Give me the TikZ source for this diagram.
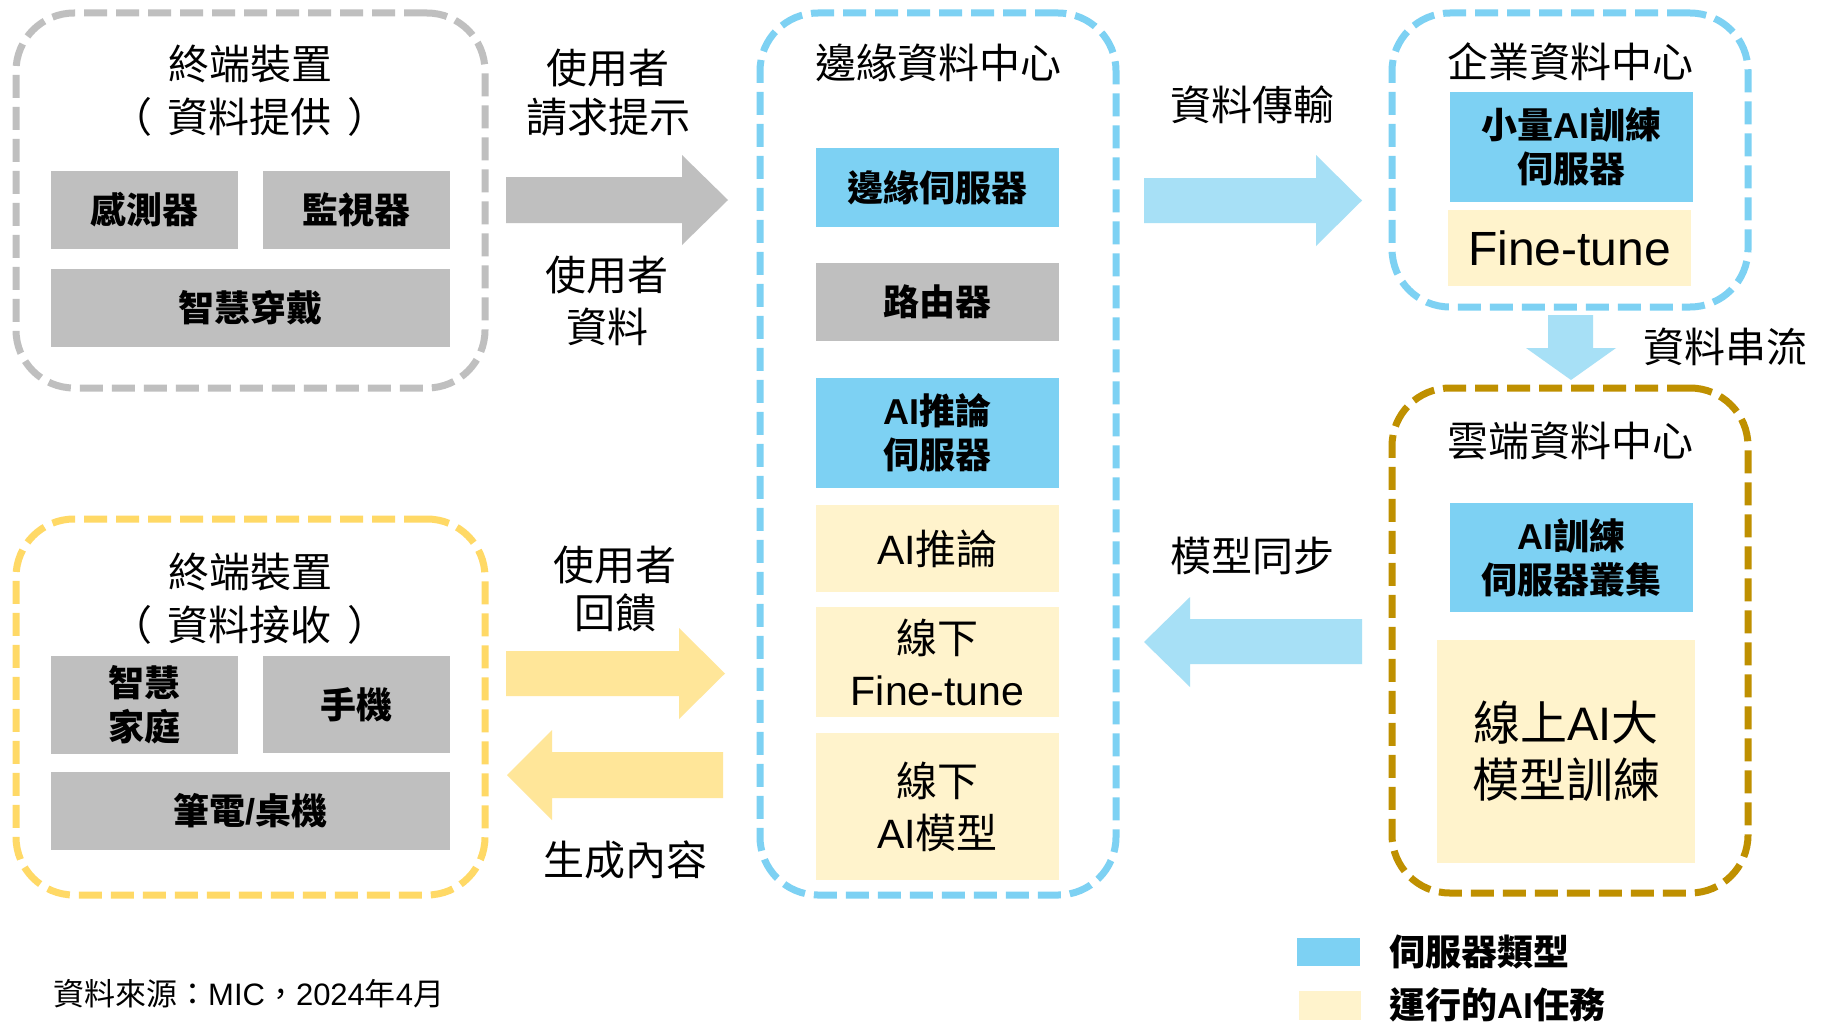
\documentclass[tikz,border=0pt]{standalone}
\usepackage{fontspec}
\setmainfont{Noto Sans CJK TC}
\newfontfamily\latf{Liberation Sans}
\definecolor{cgray}{HTML}{BFBFBF}
\definecolor{boxblue}{HTML}{7DD1F3}
\definecolor{arrblue}{HTML}{A7E0F6}
\definecolor{boxyel}{HTML}{FFF3CC}
\definecolor{arryel}{HTML}{FFE699}
\definecolor{bordyel}{HTML}{FFD966}
\definecolor{gold}{HTML}{BF9000}
\tikzset{
  cont/.style={draw=#1, line width=7pt, dash pattern=on 23pt off 9pt, rounded corners=58pt, inner sep=0pt},
  blk/.style={fill=#1, inner sep=0pt, outer sep=0pt, align=center},
  rt/.style={font=\fontsize{41}{52}\selectfont, align=center, inner sep=0pt},
  bt/.style={font=\fontsize{36}{44}\selectfont\bfseries, align=center, inner sep=0pt},
}
\begin{document}
\begin{tikzpicture}[x=1pt,y=-1pt]
\useasboundingbox (0,0) rectangle (1827,1025);
\fill[white] (0,0) rectangle (1827,1025);

% containers
\node[cont=cgray, minimum width=469, minimum height=375] (devA) at (250.5,200.5) {};
\node[cont=bordyel, minimum width=469, minimum height=376] (devB) at (250.5,707) {};
\node[cont=boxblue, minimum width=356, minimum height=882] (mid) at (938,454) {};
\node[cont=boxblue, minimum width=356, minimum height=294] (ent) at (1570,160) {};
\node[cont=gold, minimum width=356, minimum height=505] (cloud) at (1570,640.5) {};

% titles
\node[rt, font=\fontsize{41}{53}\selectfont] (devAt) at (250,91) {終端裝置\\（\hspace{16pt}資料提供\hspace{16pt}）};
\node[rt, font=\fontsize{41}{53}\selectfont] (devBt) at (250,598.5) {終端裝置\\（\hspace{16pt}資料接收\hspace{16pt}）};
\node[rt] (midt) at (938,63) {邊緣資料中心};
\node[rt] (entt) at (1570,62) {企業資料中心};
\node[rt] (cloudt) at (1570,441) {雲端資料中心};

% left top boxes
\node[blk=cgray, bt, minimum width=187, minimum height=78] (sensor) at (144.5,210) {感測器};
\node[blk=cgray, bt, minimum width=187, minimum height=78] (monitor) at (356.5,210) {監視器};
\node[blk=cgray, bt, minimum width=399, minimum height=78] (wear) at (250.5,308) {智慧穿戴};

% left bottom boxes
\node[blk=cgray, bt, minimum width=187, minimum height=98] (home) at (144.5,705) {智慧\\家庭};
\node[blk=cgray, bt, minimum width=187, minimum height=97] (phone) at (356.5,704.5) {手機};
\node[blk=cgray, bt, minimum width=399, minimum height=78] (laptop) at (250.5,811) {筆電{\latf /}桌機};

% middle boxes
\node[blk=boxblue, bt, minimum width=243, minimum height=79] (edgesrv) at (937.5,187.5) {邊緣伺服器};
\node[blk=cgray, bt, minimum width=243, minimum height=78] (router) at (937.5,302) {路由器};
\node[blk=boxblue, bt, minimum width=243, minimum height=110] (infsrv) at (937.5,433) {{\latf AI}推論\\伺服器};
\node[blk=boxyel, rt, minimum width=243, minimum height=87] (inf) at (937.5,548.5) {{\latf AI}推論};
\node[blk=boxyel, rt, minimum width=243, minimum height=110] (offft) at (937.5,662) {線下\\{\latf Fine-tune}};
\node[blk=boxyel, rt, minimum width=243, minimum height=147] (offmodel) at (937.5,806.5) {線下\\{\latf AI}模型};

% right boxes
\node[blk=boxblue, bt, minimum width=243, minimum height=110] (smallsrv) at (1571.5,147) {小量{\latf AI}訓練\\伺服器};
\node[blk=boxyel, minimum width=243, minimum height=76, font=\fontsize{48}{56}\selectfont\latf] (ft) at (1569.5,248) {Fine-tune};
\node[blk=boxblue, bt, minimum width=243, minimum height=109] (cluster) at (1571.5,557.5) {{\latf AI}訓練\\伺服器叢集};
\node[blk=boxyel, minimum width=258, minimum height=223, font=\fontsize{47}{57}\selectfont] (online) at (1566,751.5) {線上{\latf AI}大\\模型訓練};

% arrows
\fill[cgray] (506,177) -- (682,177) -- (682,155) -- (728,200) -- (682,245) -- (682,223) -- (506,223) -- cycle;
\fill[arrblue] (1144,178) -- (1316,178) -- (1316,155) -- (1362,200.5) -- (1316,246) -- (1316,223) -- (1144,223) -- cycle;
\fill[arrblue] (1548,315) -- (1593,315) -- (1593,348) -- (1616,348) -- (1571,380) -- (1526,348) -- (1548,348) -- cycle;
\fill[arryel] (506,651) -- (679,651) -- (679,628) -- (725,673.5) -- (679,719) -- (679,696) -- (506,696) -- cycle;
\fill[arryel] (723,752) -- (552,752) -- (552,730) -- (507,775) -- (552,820) -- (552,798) -- (723,798) -- cycle;
\fill[arrblue] (1362,619) -- (1190,619) -- (1190,597) -- (1144,642) -- (1190,687) -- (1190,664) -- (1362,664) -- cycle;

% arrow labels
\node[rt, font=\fontsize{41}{49}\selectfont] (lreq) at (608,93) {使用者\\請求提示};
\node[rt] (ldata) at (607,301) {使用者\\資料};
\node[rt, font=\fontsize{41}{48}\selectfont] (lfb) at (615,589) {使用者\\回饋};
\node[rt] (lgen) at (625,860) {生成內容};
\node[rt] (ltrans) at (1252,105) {資料傳輸};
\node[rt] (lsync) at (1252,556) {模型同步};
\node[rt] (lstream) at (1725,347) {資料串流};

% legend
\node[blk=boxblue, minimum width=63, minimum height=28] (lgA) at (1328.5,952) {};
\node[blk=boxyel, minimum width=62, minimum height=29] (lgB) at (1330,1005.5) {};
\node[bt, anchor=west] (lgAt) at (1389,952) {伺服器類型};
\node[bt, anchor=west] (lgBt) at (1389,1005) {運行的{\latf AI}任務};

% source
\node[anchor=west, inner sep=0pt, font=\fontsize{31}{36}\selectfont] (src) at (53,994) {資料來源：{\latf MIC}，{\latf 2024}年{\latf 4}月};
\end{tikzpicture}
\end{document}
